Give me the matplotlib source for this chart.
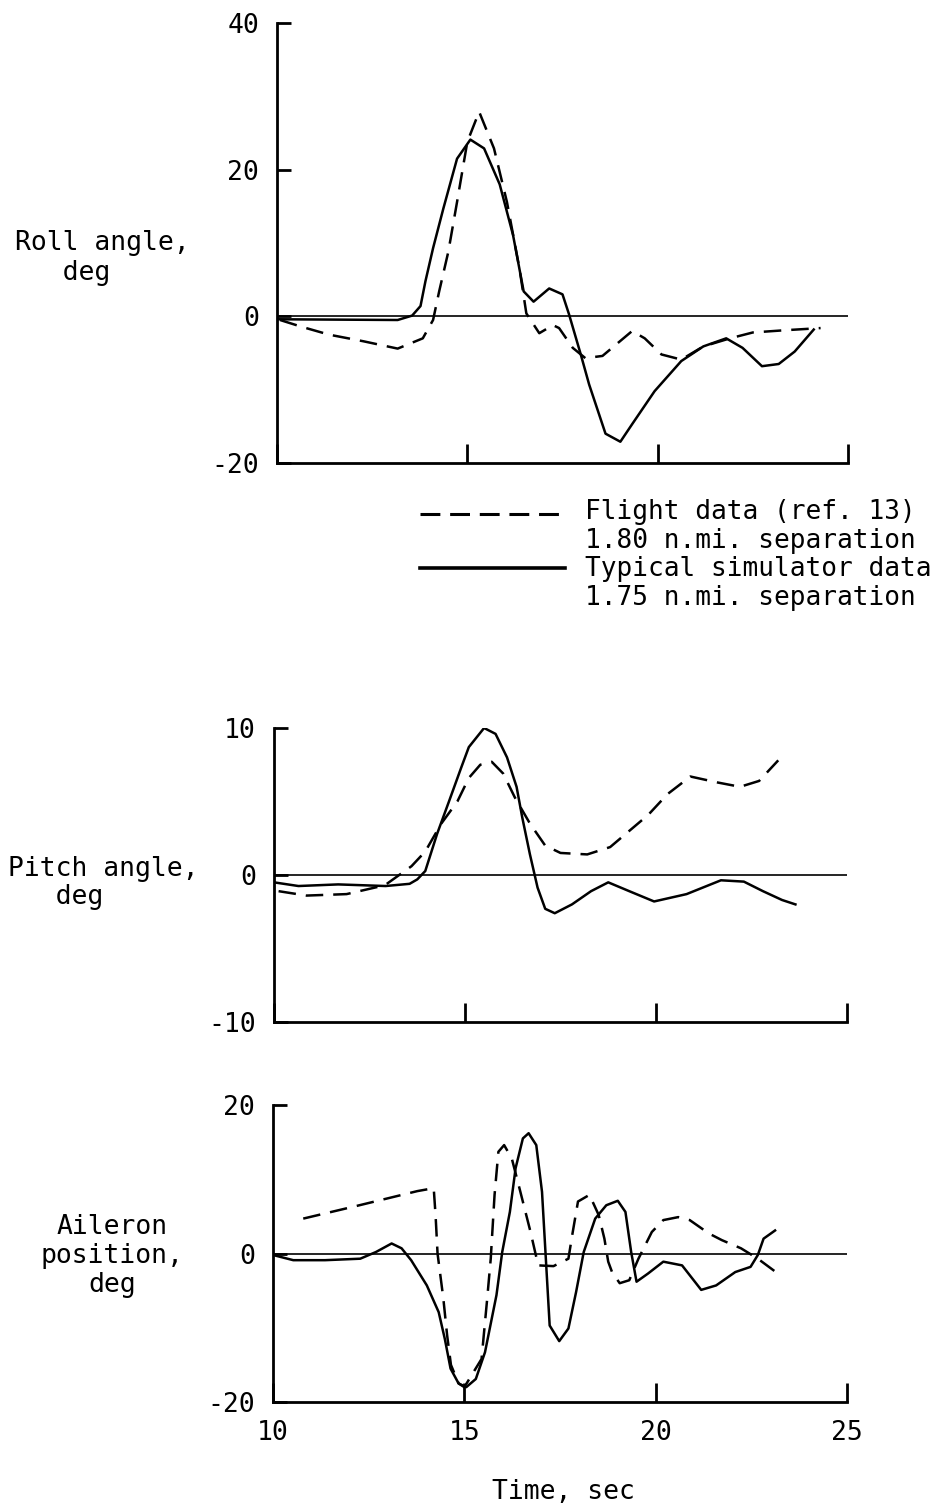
import matplotlib
matplotlib.use('Agg')  # no display
import matplotlib.pyplot as plt
from matplotlib.lines import Line2D

plt.rcParams['font.family'] = ['DejaVu Sans Mono', 'DejaVu Sans']
plt.rcParams['font.size'] = 19
plt.rcParams['axes.unicode_minus'] = False

# Roll angle, deg
roll_sim_t = [10.0, 13.17, 13.55, 13.77, 13.9, 14.1, 14.37, 14.73, 15.08, 15.44, 15.85,
              16.2, 16.48, 16.74, 17.15, 17.5, 17.67, 17.98, 18.2, 18.63, 19.02, 19.33,
              19.92, 20.62, 21.2, 21.8, 22.23, 22.74, 23.18, 23.6, 24.1]
roll_sim = [-0.4, -0.5, 0.1, 1.4, 4.8, 9.3, 14.7, 21.5, 24.1, 22.9, 18.0,
            11.1, 3.4, 2.0, 3.8, 3.0, 0.3, -5.2, -9.3, -16.0, -17.1, -14.7,
            -10.2, -6.1, -4.1, -3.0, -4.3, -6.8, -6.5, -4.8, -1.8]
roll_flt_t = [10.08, 10.63, 11.37, 12.27, 13.17, 13.83, 14.1, 14.26, 14.5, 14.73, 15.0,
              15.31, 15.7, 16.04, 16.37, 16.55, 16.89, 17.25, 17.41, 17.77, 18.1, 18.55,
              19.33, 19.66, 20.1, 20.62, 21.2, 21.9, 22.5, 23.33, 24.28]
roll_flt = [-0.5, -1.4, -2.5, -3.4, -4.4, -3.0, -0.5, 3.4, 8.8, 15.6, 23.8,
            27.9, 22.9, 15.6, 6.5, 0.4, -2.3, -1.2, -1.6, -4.3, -5.7, -5.4,
            -2.0, -3.0, -5.2, -5.9, -4.1, -3.0, -2.2, -1.9, -1.6]

# Pitch angle, deg
pitch_sim_t = [10.0, 10.64, 11.68, 12.92, 13.55, 13.75, 13.96, 14.27, 14.58, 14.9, 15.1,
               15.5, 15.8, 16.1, 16.35, 16.5, 16.7, 16.9, 17.1, 17.35, 17.8, 18.3,
               18.75, 19.3, 19.95, 20.8, 21.7, 22.3, 22.8, 23.3, 23.65]
pitch_sim = [-0.5, -0.75, -0.64, -0.75, -0.6, -0.3, 0.27, 2.8, 5.0, 7.3, 8.7,
             10.0, 9.6, 8.0, 6.0, 3.9, 1.4, -0.86, -2.3, -2.6, -2.0, -1.1,
             -0.5, -1.1, -1.8, -1.3, -0.36, -0.45, -1.1, -1.7, -2.0]
pitch_flt_t = [10.12, 10.85, 11.9, 12.9, 13.6, 13.96, 14.38, 14.8, 15.1, 15.4, 15.7,
               16.0, 16.3, 16.7, 17.1, 17.5, 18.2, 18.8, 19.3, 19.8, 20.3, 20.9,
               21.6, 22.2, 22.7, 23.2]
pitch_flt = [-1.1, -1.4, -1.3, -0.7, 0.6, 1.6, 3.5, 5.0, 6.6, 7.5, 7.7,
             6.9, 5.3, 3.5, 2.0, 1.5, 1.4, 1.9, 3.0, 4.1, 5.5, 6.7,
             6.3, 6.0, 6.4, 7.8]

# Aileron position, deg
ail_sim_t = [10.0, 10.53, 11.36, 12.28, 12.69, 13.1, 13.36, 13.61, 14.02, 14.33, 14.49,
             14.64, 14.85, 15.05, 15.3, 15.54, 15.84, 15.99, 16.19, 16.34, 16.53, 16.68,
             16.88, 17.03, 17.13, 17.23, 17.48, 17.72, 17.92, 18.12, 18.42, 18.71, 19.01,
             19.21, 19.36, 19.5, 19.8, 20.2, 20.69, 21.19, 21.58, 22.08, 22.48, 22.67,
             22.82, 23.12]
ail_sim = [-0.2, -0.9, -0.9, -0.7, 0.2, 1.35, 0.7, -0.9, -4.3, -7.9, -11.5,
           -15.5, -17.5, -18.0, -16.9, -13.3, -5.6, 0.2, 5.6, 11.5, 15.5, 16.2,
           14.6, 8.3, -0.7, -9.7, -11.8, -10.1, -5.2, 0.2, 4.7, 6.5, 7.1,
           5.6, 0.2, -3.8, -2.7, -1.1, -1.6, -4.9, -4.3, -2.5, -1.8, -0.2,
           2.0, 3.1]
ail_flt_t = [10.79, 12.18, 13.77, 14.2, 14.25, 14.3, 14.45, 14.55, 14.65, 14.85, 15.0,
             15.45, 15.59, 15.69, 15.79, 15.89, 16.04, 16.24, 16.44, 16.73, 16.93, 17.33,
             17.72, 17.82, 17.97, 18.27, 18.51, 18.66, 18.76, 18.86, 19.06, 19.31, 19.55,
             19.9, 20.2, 20.59, 20.89, 21.39, 21.73, 22.23, 22.67, 23.22]
ail_flt = [4.7, 6.4, 8.4, 8.8, 5.0, 0.0, -6.0, -11.0, -15.0, -17.5, -18.0,
           -14.2, -6.5, -0.7, 7.9, 13.7, 14.6, 12.8, 8.8, 2.9, -1.6, -1.7,
           -0.7, 2.5, 7.0, 7.9, 5.2, 2.0, -1.1, -2.5, -4.0, -3.6, -0.7,
           2.9, 4.5, 4.9, 4.5, 2.7, 1.8, 0.7, -0.7, -2.8]

time_ticks = [10, 15, 20, 25]
legend_text = ("Flight data (ref. 13)\n1.80 n.mi. separation\n"
               "Typical simulator data\n1.75 n.mi. separation")
W, H = 943, 1509
DASH = (0, (7, 4))


def style_axes(ax, ylim, yticks, show_xlabels):
    ax.set_xlim(10, 25)
    ax.set_ylim(*ylim)
    for side in ['top', 'right']:
        ax.spines[side].set_visible(False)
    for side in ['left', 'bottom']:
        ax.spines[side].set_linewidth(2)
    ax.set_xticks(time_ticks)
    ax.set_yticks(yticks)
    ax.tick_params(axis='x', direction='in', length=14, width=2, pad=13,
                   labelbottom=show_xlabels)
    ax.tick_params(axis='y', direction='in', length=10, width=2, pad=13)
    ax.axhline(0, color='black', lw=1.2)


fig = plt.figure(figsize=(W / 100, H / 100), dpi=100)

ax1 = fig.add_axes([277 / W, 1 - 463 / H, 571 / W, 440 / H])
ax2 = fig.add_axes([274 / W, 1 - 1022 / H, 573 / W, 294 / H])
ax3 = fig.add_axes([273 / W, 1 - 1402 / H, 574 / W, 297 / H])

style_axes(ax1, (-20, 40), [-20, 0, 20, 40], False)
style_axes(ax2, (-10, 10), [-10, 0, 10], False)
style_axes(ax3, (-20, 20), [-20, 0, 20], True)

ax1.plot(roll_flt_t, roll_flt, color='black', lw=1.8, ls=DASH)
ax1.plot(roll_sim_t, roll_sim, color='black', lw=1.8)
ax2.plot(pitch_flt_t, pitch_flt, color='black', lw=1.8, ls=DASH)
ax2.plot(pitch_sim_t, pitch_sim, color='black', lw=1.8)
ax3.plot(ail_flt_t, ail_flt, color='black', lw=1.8, ls=DASH)
ax3.plot(ail_sim_t, ail_sim, color='black', lw=1.8)

# y labels
fig.text(15 / W, 1 - 258 / H, "Roll angle,\n   deg", ha='left', va='center',
         multialignment='left', linespacing=1.15)
fig.text(8 / W, 1 - 883 / H, "Pitch angle,\n   deg", ha='left', va='center',
         multialignment='left', linespacing=1.15)
fig.text(112 / W, 1 - 1256 / H, "Aileron\nposition,\ndeg", ha='center', va='center',
         multialignment='center', linespacing=1.15)
fig.text(563 / W, 1 - 1492 / H, "Time, sec", ha='center', va='center')

# legend
fig.add_artist(Line2D([420 / W, 565 / W], [1 - 514 / H] * 2, transform=fig.transFigure,
                      color='black', lw=2.2, ls=(0, (6.5, 3.2))))
fig.add_artist(Line2D([420 / W, 565 / W], [1 - 568 / H] * 2, transform=fig.transFigure,
                      color='black', lw=2.6))
fig.text(585 / W, 1 - 555 / H, legend_text, ha='left', va='center', fontsize=18.8,
         linespacing=1.12)

fig.savefig('out.png', dpi=100)
